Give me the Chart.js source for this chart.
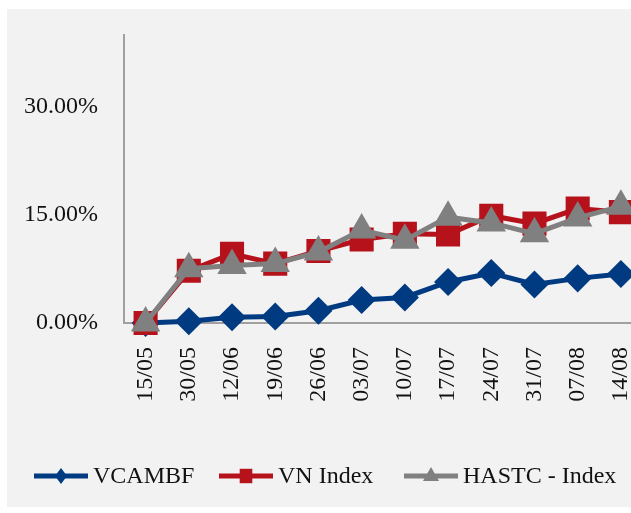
<!DOCTYPE html>
<html lang="en">
<head>
    <meta charset="UTF-8">
    <title>VCAMBF vs VN Index vs HASTC</title>
    <script src="https://cdn.jsdelivr.net/npm/chart.js"></script>
    <style>
        html, body { margin: 0; padding: 0; background: #ffffff; overflow: hidden; }
        body { width: 631px; height: 513px; position: relative; }
        .box { position: absolute; left: 7px; top: 9px; width: 654px; height: 498px; background: #f2f2f2; }
    </style>
</head>
<body>
    <div class="box">
        <canvas id="perfChart" width="654" height="498"></canvas>
    </div>

    <script>
        // data (percent)
        var categories = ['15/05', '30/05', '12/06', '19/06', '26/06', '03/07', '10/07', '17/07', '24/07', '31/07', '07/08', '14/08'];
        var vcambf  = [0, 0.25, 0.8, 0.9, 1.7, 3.2, 3.55, 5.7, 6.95, 5.35, 6.2, 6.8];
        var vnIndex = [0, 7.25, 9.6, 8.25, 10.0, 11.6, 12.4, 12.3, 14.9, 13.8, 15.9, 15.4];
        var hastc   = [0, 7.55, 8.0, 8.25, 9.85, 12.9, 11.5, 14.7, 13.9, 12.4, 14.6, 16.2];
        var yTicks  = [0, 15, 30];

        var FONT = "'Liberation Serif', 'Times New Roman', serif";

        function marker(ctx, style, x, y, r) {
            ctx.beginPath();
            if (style === 'rectRot') {
                ctx.moveTo(x, y - r); ctx.lineTo(x + r * 0.75, y); ctx.lineTo(x, y + r); ctx.lineTo(x - r * 0.75, y);
            } else if (style === 'rect') {
                ctx.rect(x - r * 0.7, y - r * 0.8, r * 1.4, r * 1.6);
            } else {
                ctx.moveTo(x, y - r); ctx.lineTo(x + r * 0.9, y + r * 0.55); ctx.lineTo(x - r * 0.9, y + r * 0.55);
            }
            ctx.closePath();
            ctx.fill();
        }

        // legend with line + marker samples
        var lineLegend = {
            id: 'lineLegend',
            afterDraw: function (chart) {
                var ctx = chart.ctx;
                var starts = [27, 212, 397];
                var y = 467;
                ctx.save();
                chart.data.datasets.forEach(function (ds, i) {
                    var x = starts[i];
                    ctx.strokeStyle = ds.borderColor;
                    ctx.fillStyle = ds.borderColor;
                    ctx.lineWidth = 5;
                    ctx.beginPath();
                    ctx.moveTo(x, y); ctx.lineTo(x + 54, y);
                    ctx.stroke();
                    marker(ctx, ds.pointStyle, x + 27, y, ds.legendMarker);
                    ctx.fillStyle = '#111111';
                    ctx.font = '24px ' + FONT;
                    ctx.textBaseline = 'middle';
                    ctx.textAlign = 'left';
                    ctx.fillText(ds.label, x + 59, y + 1);
                });
                ctx.restore();
            }
        };

        function noPad(scale) {
            scale.paddingLeft = 0;
            scale.paddingRight = 0;
            scale.paddingTop = 0;
            scale.paddingBottom = 0;
        }

        var ctx = document.getElementById('perfChart').getContext('2d');
        var chart = new Chart(ctx, {
            type: 'line',
            data: {
                labels: categories,
                datasets: [{
                    label: 'VCAMBF',
                    data: vcambf,
                    borderColor: '#003a80',
                    backgroundColor: '#003a80',
                    borderWidth: 5,
                    pointStyle: 'rectRot',
                    pointRadius: 10.5,
                    legendMarker: 8,
                    order: 3
                }, {
                    label: 'VN Index',
                    data: vnIndex,
                    borderColor: '#b5121b',
                    backgroundColor: '#b5121b',
                    borderWidth: 5,
                    pointStyle: 'rect',
                    pointRadius: 13.5,
                    legendMarker: 9,
                    order: 2
                }, {
                    label: 'HASTC - Index',
                    data: hastc,
                    borderColor: '#808080',
                    backgroundColor: '#808080',
                    borderWidth: 5,
                    pointStyle: 'triangle',
                    pointRadius: 12,
                    legendMarker: 9,
                    order: 1
                }]
            },
            options: {
                responsive: false,
                animation: false,
                clip: false,
                layout: { padding: { top: 26, left: 0, right: 0, bottom: 0 } },
                elements: {
                    line: { tension: 0, fill: false },
                    point: { borderWidth: 0, hoverRadius: 10 }
                },
                plugins: {
                    legend: { display: false },
                    tooltip: { enabled: false }
                },
                scales: {
                    x: {
                        offset: true,
                        grid: { display: false, drawTicks: false },
                        border: { display: true, color: '#a0a0a0', width: 2 },
                        ticks: {
                            autoSkip: false,
                            minRotation: 90,
                            maxRotation: 90,
                            padding: 24,
                            color: '#111111',
                            font: { family: FONT, size: 24 }
                        },
                        afterFit: function (scale) { scale.height = 184; noPad(scale); }
                    },
                    y: {
                        min: 0,
                        max: 40,
                        grid: { display: false, drawTicks: false },
                        border: { display: true, color: '#a0a0a0', width: 2 },
                        afterBuildTicks: function (scale) {
                            scale.ticks = yTicks.map(function (v) { return { value: v }; });
                        },
                        ticks: {
                            padding: 26,
                            color: '#111111',
                            font: { family: FONT, size: 24 },
                            callback: function (v) { return v.toFixed(2) + '%'; }
                        },
                        afterFit: function (scale) { scale.width = 117; noPad(scale); }
                    }
                }
            },
            plugins: [lineLegend]
        });
    </script>
</body>
</html>
